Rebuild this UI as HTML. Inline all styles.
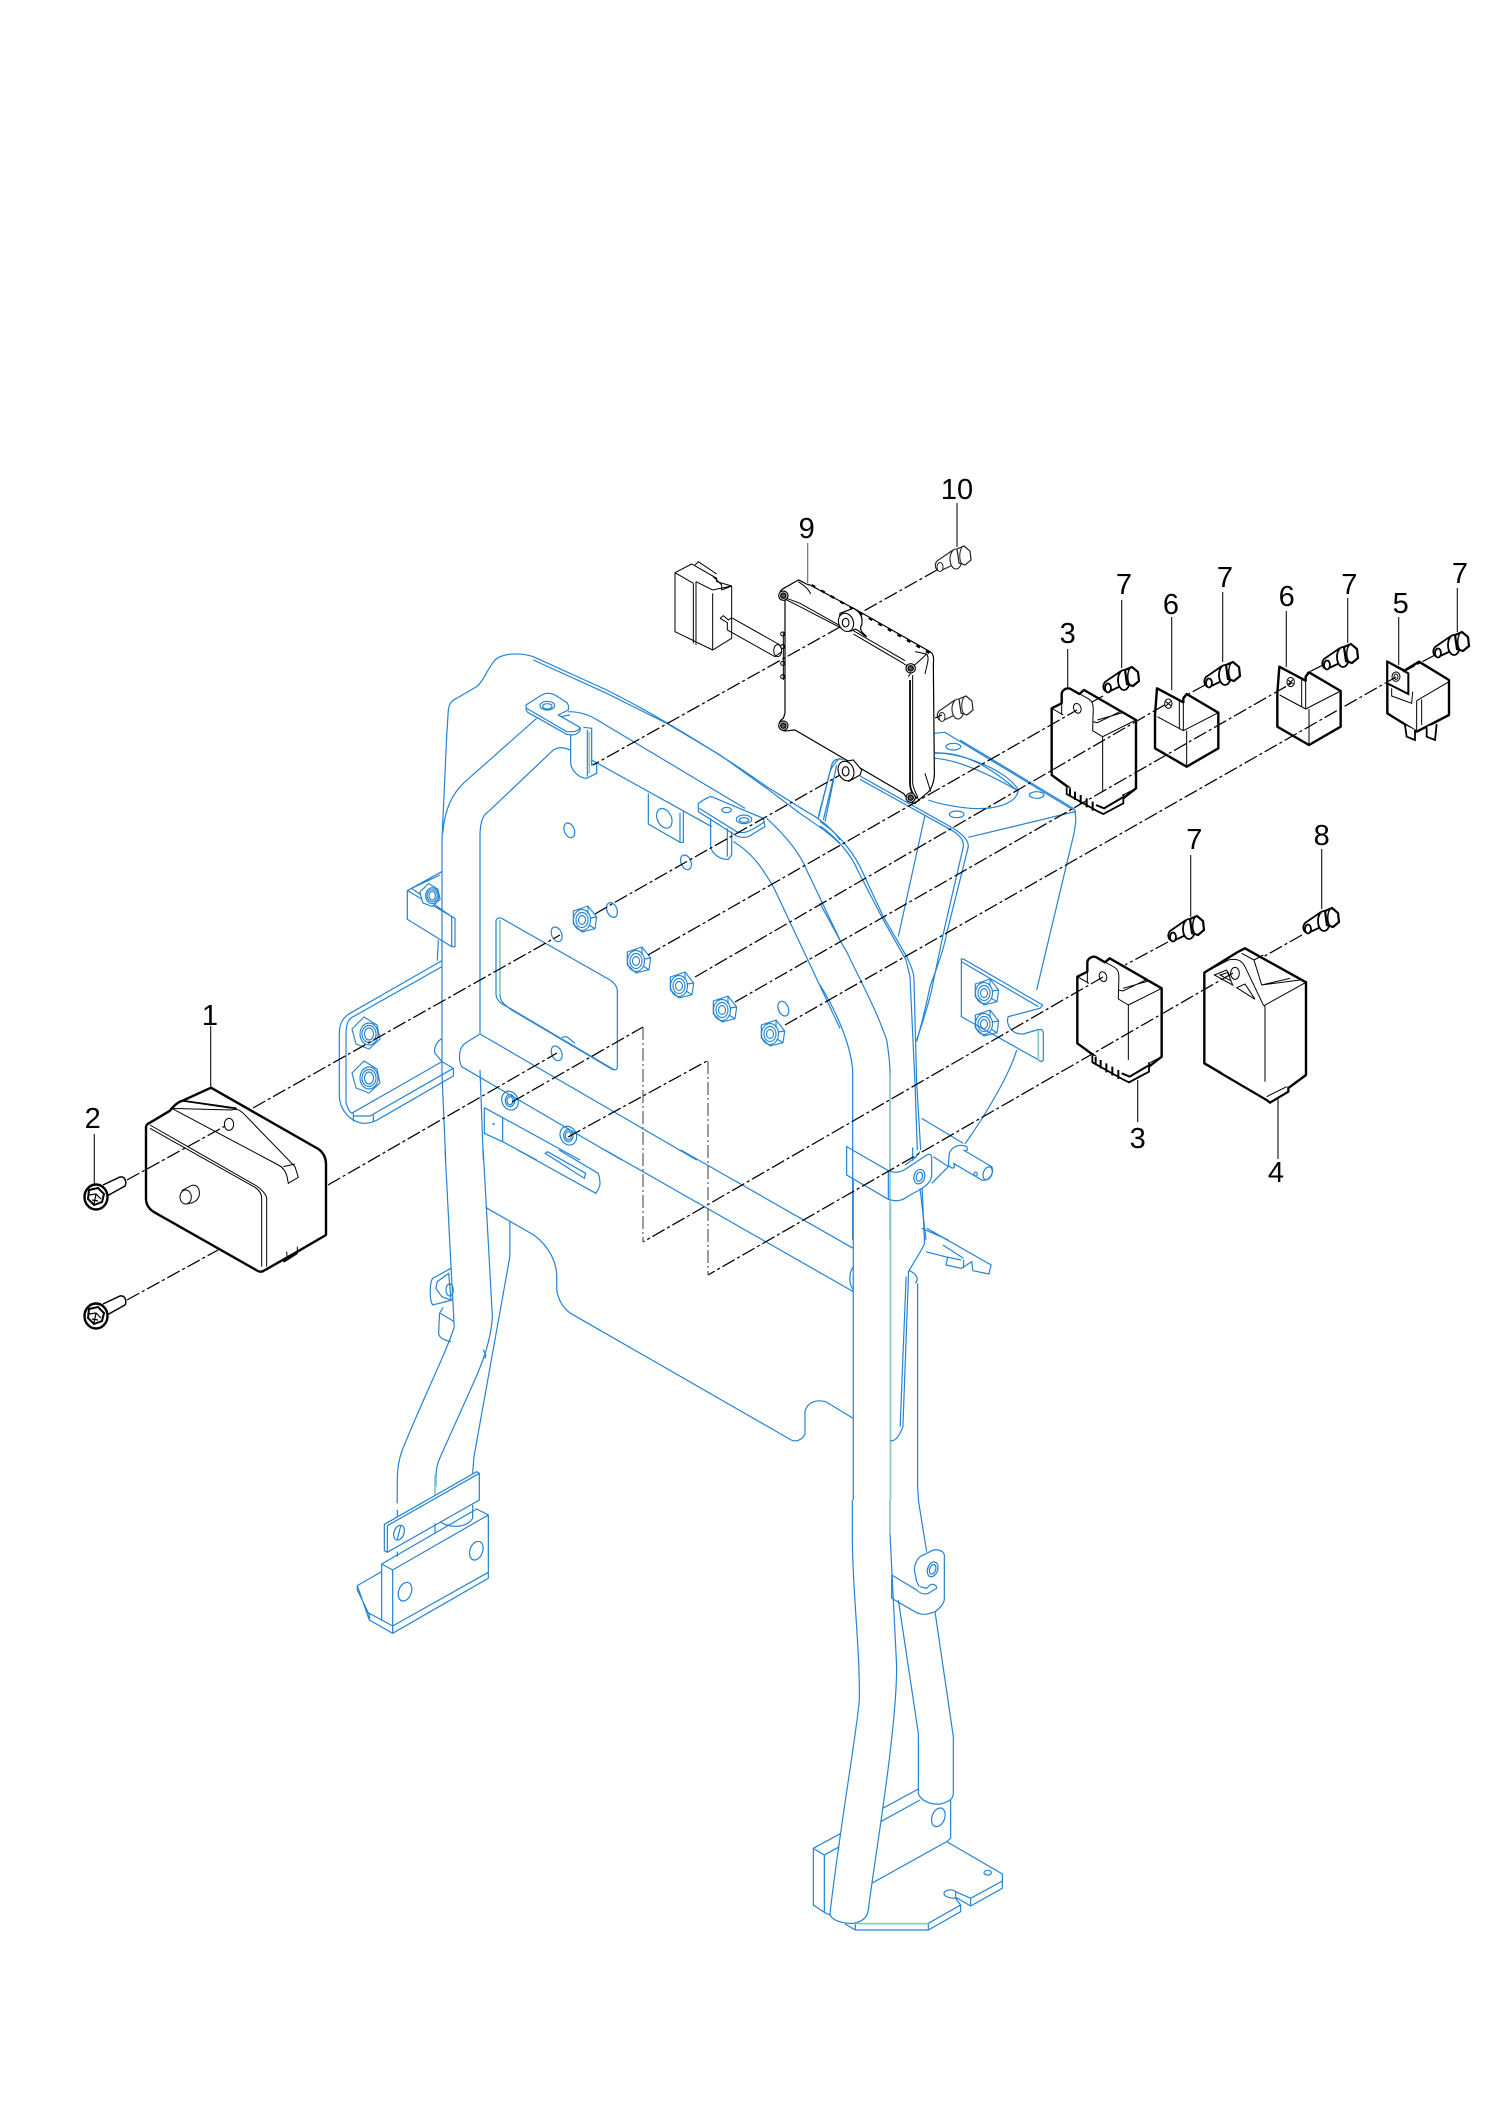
<!DOCTYPE html>
<html><head><meta charset="utf-8"><style>
html,body{margin:0;padding:0;background:#fff;width:1500px;height:2121px;overflow:hidden}
svg{display:block}
path,ellipse,polygon,line,circle{vector-effect:non-scaling-stroke}
.b path,.b ellipse,.b polygon{fill:none;stroke:#2483d4;stroke-width:1.2}
.b .t{stroke:#8ccbcd;stroke-width:1.8}
.k{fill:none;stroke:#000;stroke-width:1.1}
.K{fill:#fff;stroke:#000;stroke-width:2.4;stroke-linejoin:round}
.n{fill:none;stroke:#000;stroke-width:1}
.d{fill:none;stroke:#000;stroke-width:1.25;stroke-dasharray:14 3 3 3}
.g{fill:none;stroke:#666;stroke-width:1.3;stroke-dasharray:13 3 2 3}
.l{stroke:#111;stroke-width:1.1}
text{font-family:"Liberation Sans",sans-serif;font-size:29px;fill:#000;text-anchor:middle}
</style></head><body>
<svg width="1500" height="2121" viewBox="0 0 1500 2121" xmlns="http://www.w3.org/2000/svg">
<defs>
<g id="nut" fill="none" stroke="#2483d4" stroke-width="1.15">
<polygon points="-11.7,-8 3,-13 11.7,-2 10,9.7 -3,13 -11.7,4.7" fill="#fff"/>
<ellipse cx="-3" cy="1" rx="8.5" ry="10.5"/><ellipse cx="-3" cy="1" rx="6" ry="7.5"/><ellipse cx="-3" cy="1" rx="3.5" ry="4.5"/>
<path d="M3,-13 L3,-5 M11.7,-2 L5,-1 M10,9.7 L4,6"/>
</g>
<g id="nutR" fill="none" stroke="#2483d4" stroke-width="1.15">
<polygon points="-2,-16 11,-8 14,6 3,16 -10,11 -14,-4" fill="#fff"/>
<ellipse cx="3" cy="1" rx="9" ry="11"/><ellipse cx="3" cy="1" rx="7" ry="8.5"/><ellipse cx="3" cy="1" rx="4.5" ry="6"/>
</g>
<g id="boltA">
<path d="M7,-12 L24,-20 C29,-21 31,-15 29,-11 L11,-1" fill="#fff" stroke="#000" stroke-width="1.5"/>
<ellipse cx="0" cy="0" rx="11.5" ry="12.5" fill="#fff" stroke="#000" stroke-width="2.4"/>
<polygon points="-7,-7 2,-9 8,-3 6,5 -2,8 -8,2" fill="#fff" stroke="#000" stroke-width="2"/>
<path d="M-7,-2 L0,-3 L5,2 M0,-3 L-2,7 M-4,3 L2,4" stroke="#000" stroke-width="1.2" fill="none"/>
</g>
<g id="boltB">
<path d="M-7,-7 L-23,4 C-26,8 -25,13 -20,14 L-5,7" fill="#fff" stroke="#000" stroke-width="1.8"/>
<ellipse cx="-20" cy="10" rx="3" ry="4.5" fill="#fff" stroke="#000" stroke-width="1.8"/>
<ellipse cx="-4" cy="2" rx="6" ry="10" fill="#fff" stroke="#000" stroke-width="1.8"/>
<polygon points="-3,-8 4,-11 10,-6 11,3 5,8 -1,6" fill="#fff" stroke="#000" stroke-width="2.2"/>
<path d="M2,-10 C-1,-5 -1,3 2,7" fill="none" stroke="#000" stroke-width="1.4"/>
</g>
<g id="boltC">
<path d="M-7,-7 L-23,4 C-26,8 -25,13 -20,14 L-5,7" fill="#fff" stroke="#222" stroke-width="1.1"/>
<ellipse cx="-20" cy="10" rx="3" ry="4.5" fill="#fff" stroke="#222" stroke-width="1"/>
<ellipse cx="-4" cy="2" rx="6" ry="10" fill="#fff" stroke="#222" stroke-width="1.1"/>
<polygon points="-3,-8 4,-11 10,-6 11,3 5,8 -1,6" fill="#fff" stroke="#222" stroke-width="1.2"/>
<path d="M2,-10 C-1,-5 -1,3 2,7" fill="none" stroke="#222" stroke-width="1"/>
</g>
<g id="p3">
<path class="K" d="M95,505 L125,490 L125,460 C130,445 145,443 152,447 L178,462 L192,450 L348,540 L348,745 L252,820 L95,705 Z"/>
<path class="n" d="M95,505 L130,525 M125,490 L125,525 M152,447 L205,476 C220,485 221,497 219,530 L218,572 L248,590 L248,795 M248,590 L348,540 M218,545 L232,548 L300,515 M232,540 L308,518 M248,797 L348,745"/>
<path d="M140,742 L140,762 L235,815 L250,822 L310,790 L310,762" fill="#fff" stroke="#000" stroke-width="1.8"/>
<path d="M150,745 L150,770 M165,755 L165,780 M182,765 L182,792 M200,775 L200,802 M218,785 L218,812 M228,795 L252,805 L308,772" stroke="#000" stroke-width="2" fill="none"/>
<ellipse cx="172" cy="505" rx="11" ry="15" transform="rotate(-20 172 505)" fill="none" stroke="#000" stroke-width="1"/>
</g>
<g id="p6">
<path class="K" d="M405,525 L411,445 L490,487 L490,475 L500,462 L595,518 L595,625 L500,680 L405,625 Z"/>
<path class="n" d="M412,530 L490,572 M490,487 L490,572 M478,480 L478,566 M490,572 L595,518 M500,572 L500,680"/>
<ellipse cx="445" cy="491" rx="11" ry="14" class="n"/>
<path class="n" d="M437,485 L453,497 M452,484 L438,498"/>
</g>
</defs>

<!-- BLUE: region 5 -->
<g class="b" transform="translate(320,640) scale(.33333)">
<path d="M377,1560 L366,1300 L366,600 L380,290 L385,210 C388,190 395,182 410,175 L470,140 C490,125 500,90 525,60 C545,42 590,35 640,50 L860,150 C1000,220 1200,340 1340,440 L1460,515 C1500,535 1540,570 1560,600"/>
<path d="M640,60 L860,160 L1040,250 L1200,345 L1340,445 L1440,520 C1490,555 1530,580 1560,612"/>
<path d="M480,1180 L480,580 C482,540 490,525 505,515 L700,330 C715,320 730,322 752,330"/>
<path d="M650,235 L430,430 C400,460 375,500 368,580"/>
<path d="M745,215 C780,215 810,225 835,242 L1275,505"/>
<path d="M815,360 L1175,560"/>
<path d="M1240,605 C1300,640 1330,690 1360,740 L1560,1165"/>
<path d="M1340,535 C1400,590 1440,640 1460,690 L1560,900"/>
<path d="M1495,530 L1525,415 C1530,385 1545,365 1560,355 M1510,540 L1540,415"/>
<!-- top left bracket -->
<path d="M618,195 L665,165 C680,157 695,160 705,165 L740,187 C748,195 745,205 745,210 L715,225 L780,262 C785,268 775,285 755,285 L740,283 L625,218 C618,215 618,205 618,195 Z"/>
<path d="M620,205 L740,275 L755,275 C770,275 780,268 780,262"/>
<path d="M752,285 L752,370 C755,395 780,415 800,415 L830,400 L830,370 L815,375 L815,265 L790,262 M802,270 L802,410"/>
<path class="t" d="M808,275 L808,400"/>
<ellipse cx="682" cy="197" rx="22" ry="13"/><ellipse cx="682" cy="199" rx="14" ry="8"/>
<path d="M715,225 C725,235 735,225 750,225"/>
<!-- right bracket -->
<path d="M1135,490 C1150,480 1168,468 1175,470 L1330,535 L1335,560 L1285,590 C1270,595 1250,590 1245,585 L1135,515 Z"/>
<path d="M1138,505 L1250,575 C1270,582 1285,578 1335,545"/>
<ellipse cx="1272" cy="538" rx="23" ry="13"/><ellipse cx="1272" cy="540" rx="14" ry="7"/><ellipse cx="1220" cy="510" rx="14" ry="8"/>
<path d="M1172,535 L1172,620 C1175,640 1200,660 1225,658 L1235,645 L1235,575 M1222,565 L1222,650"/>
<path d="M985,460 L985,552 L1080,607 L1090,607 L1090,515 M1080,518 L1080,605"/>
<ellipse cx="1033" cy="535" rx="21" ry="31" transform="rotate(-25 1033 535)"/>
<!-- holes -->
<ellipse cx="748" cy="571" rx="15" ry="23" transform="rotate(-22 748 571)"/>
<ellipse cx="1098" cy="667" rx="15" ry="23" transform="rotate(-22 1098 667)"/>
<ellipse cx="876" cy="810" rx="15" ry="23" transform="rotate(-22 876 810)"/>
<ellipse cx="710" cy="883" rx="15" ry="23" transform="rotate(-22 710 883)"/>
<ellipse cx="710" cy="1240" rx="15" ry="23" transform="rotate(-22 710 1240)"/>
<ellipse cx="1390" cy="1106" rx="15" ry="23" transform="rotate(-22 1390 1106)"/>
<!-- left plate -->
<path d="M366,962 L90,1120 C65,1135 58,1155 58,1180 L58,1370 C60,1410 90,1445 130,1450 C150,1450 165,1445 180,1435 L400,1308 L400,1285 L366,1265 L95,1420"/>
<path d="M366,980 L100,1130 C85,1135 78,1155 78,1180 L78,1385 C80,1400 88,1415 95,1420 M100,1420 L100,1445 M160,1425 L160,1445 M100,1428 L150,1428 L400,1285"/>
<path d="M365,695 L262,752 L262,838 L395,920 L405,920 L405,835 L262,752 M275,745 L360,705 M275,745 L395,830 M395,830 L395,920"/>
<path d="M355,900 L352,962 M366,1195 C350,1205 340,1225 345,1240 L366,1265"/>
<!-- window -->
<path d="M528,845 C528,835 535,832 545,835 L870,1020 C885,1030 892,1040 892,1055 L892,1280 C892,1290 885,1292 875,1285 L570,1105 C540,1090 528,1080 528,1060 Z"/>
<path class="t" d="M540,840 L540,1065"/>
<path d="M540,1065 C540,1085 555,1095 575,1110 L880,1290 M725,1192 L740,1190 L765,1210"/>
<!-- crossbar -->
<path d="M480,1182 L1130,1560 M480,1182 L435,1210 C415,1225 415,1260 425,1280 L905,1560 M480,1290 L490,1560"/>
<path d="M493,1403 L493,1480 L548,1505 L548,1433 L493,1403 L780,1560 M548,1505 L650,1560"/>
<ellipse cx="570" cy="1382" rx="24" ry="29" transform="rotate(-25 570 1382)"/><ellipse cx="570" cy="1382" rx="14" ry="18"/><ellipse cx="570" cy="1382" rx="9" ry="12"/>
<ellipse cx="745" cy="1487" rx="24" ry="29" transform="rotate(-25 745 1487)"/><ellipse cx="745" cy="1487" rx="14" ry="18"/><ellipse cx="745" cy="1487" rx="9" ry="12"/>
<ellipse cx="521" cy="1452" rx="1.5" ry="1.5"/>
</g>
<use href="#nut" x="585" y="919"/><use href="#nut" x="639" y="960"/><use href="#nut" x="682" y="985"/><use href="#nut" x="725" y="1009"/><use href="#nut" x="773" y="1033"/>
<use href="#nut" x="987" y="992"/><use href="#nut" x="987" y="1023"/>
<use href="#nutR" x="366" y="1033"/><use href="#nutR" x="366" y="1077"/>
<g transform="translate(430,895) scale(.72)"><use href="#nutR"/></g>

<!-- BLUE: region 6 -->
<g class="b" transform="translate(820,740) scale(.33333)">
<path d="M0,245 C40,270 90,320 120,380 L190,530 L260,650 C275,680 282,700 282,720 L290,1030 L302,1230"/>
<path d="M0,258 C40,285 90,335 115,395 L190,540 L258,660 L270,710 L285,1030 L292,1230"/>
<path d="M0,490 L65,610 L80,635 C110,700 170,810 200,900 C208,950 210,980 210,1000 L210,1290"/>
<path class="t" d="M210,1000 L210,1500"/>
<path d="M0,735 C40,800 90,900 98,990 L98,1500"/>
<path d="M120,108 L400,265 C430,285 445,300 445,320 L380,580 C370,640 340,710 330,740 C320,790 305,850 290,905"/>
<path d="M120,118 L390,268 C420,285 432,300 430,320 L370,580 L340,725 C330,780 310,840 290,900"/>
<path d="M315,225 L235,590 M445,292 L765,215 C770,240 765,260 762,280 L650,750 M760,205 L420,0"/>
<path d="M345,38 C430,40 560,90 595,150 C590,190 530,210 450,205 C400,200 350,190 325,180 M345,55 C420,60 520,110 590,150"/>
<ellipse cx="400" cy="20" rx="22" ry="10"/><ellipse cx="650" cy="165" rx="22" ry="10"/><ellipse cx="410" cy="223" rx="22" ry="10"/>
<path d="M760,205 C765,210 768,215 765,220"/>
<!-- bracket -->
<path d="M424,657 L424,830 L665,965 L670,960 L670,880 C668,865 660,868 650,870 L610,882 C575,885 555,850 565,830 L660,805 L668,795 L430,657 Z M424,665 L655,800"/>
<path class="t" d="M655,870 L655,965"/>
<path d="M590,930 C570,1000 500,1120 435,1212 M305,1135 L430,1210"/>
<path d="M388,1240 C395,1220 420,1210 440,1220 C445,1230 440,1235 430,1230 L515,1280 C525,1300 505,1325 485,1320 L400,1270 C410,1285 395,1290 385,1275 Z"/>
<ellipse cx="503" cy="1300" rx="13" ry="20" transform="rotate(20 503 1300)"/><ellipse cx="467" cy="1302" rx="5" ry="6"/>
<path d="M80,1220 L205,1292 C225,1300 240,1298 260,1285 L320,1245 C330,1240 335,1245 335,1255 L335,1310 C330,1335 300,1350 270,1365 C245,1385 225,1385 205,1378 L80,1305 Z M205,1292 L205,1378 M278,1222 L278,1260 L300,1235 M255,1275 L290,1250"/>
<ellipse cx="298" cy="1310" rx="16" ry="22" transform="rotate(15 298 1310)"/><ellipse cx="298" cy="1310" rx="9" ry="14" transform="rotate(15 298 1310)"/>
<path d="M340,1250 L385,1280 L335,1330 M300,1345 L318,1500 M305,1465 L385,1500"/>
</g>

<!-- BLUE: region 2 -->
<g class="b" transform="translate(640,450) scale(.33333)">
<path d="M535,1105 L575,945 C580,925 600,925 610,930 M555,1115 L590,945"/>
<path d="M880,850 L915,847 L1300,1080"/>
<path d="M885,910 C950,905 1030,930 1135,1025"/>
</g>

<!-- BLUE: region 7 (non-uniform) -->
<g class="b" transform="translate(320,1150) scale(.4597,.33333)">
<path d="M272,0 L285,350 L292,530 C280,590 220,760 185,880 C172,920 168,950 168,1000 L168,1060"/>
<path d="M355,0 L375,500 C372,570 355,630 340,680 L262,920 C252,950 252,970 252,1010"/>
<path d="M413,215 L413,320 L335,920 L332,970"/>
<path d="M360,172 L465,255 C500,290 515,340 515,380 L515,420 C518,450 530,475 545,490 L1025,870 C1040,880 1055,860 1055,850 L1055,785 C1060,755 1080,748 1100,755 L1160,805"/>
<path d="M430,0 L600,130 C610,110 612,100 605,70 L520,0 M490,10 L575,85 L578,70 L495,5 Z"/>
<path d="M620,0 L1160,425 M785,0 L1160,295 M1160,350 C1150,370 1150,400 1160,420"/>
<path d="M1160,90 L1160,1050"/>
<path class="t" d="M1241,160 L1241,1050"/>
<path d="M1310,115 L1315,280 C1310,300 1290,340 1280,365 L1280,380 L1268,830 C1260,860 1250,875 1240,872"/>
<path d="M1275,380 L1262,830 M1282,362 C1295,370 1305,385 1295,400"/>
<path d="M1300,400 L1300,1010 L1302,1050"/>
<path d="M1320,235 L1460,345 L1455,372 L1420,362 L1418,335 L1395,355 L1362,345 L1365,322 L1318,305 M1355,285 L1400,325 M1360,320 L1395,330 M1400,330 L1400,355"/>
<path d="M285,355 L245,385 C238,400 238,450 245,465 L288,450 M255,395 L280,370 L285,450 L265,440 L252,415 Z M268,472 L260,490 L258,550 C260,565 270,570 285,575 M262,490 L292,515"/>
<ellipse cx="282" cy="420" rx="8" ry="18"/>
<path d="M355,600 C360,610 362,620 358,625"/>
</g>

<!-- BLUE: region 8 left foot -->
<g class="b" transform="translate(340,1460) scale(.33333)">
<path d="M133,193 L410,35 L418,40 L418,120 L142,277 L133,272 Z M142,197 L418,40 M142,197 L142,277"/>
<path class="t" d="M285,105 L285,45"/>
<ellipse cx="177" cy="218" rx="15" ry="23" transform="rotate(20 177 218)"/><path d="M172,238 L182,198"/>
<path d="M125,312 L410,147 L445,165 L445,355 L158,520 L88,480 L88,460 L158,498 L445,337 M125,312 L158,330 L445,165 M158,330 L158,520 M125,312 L125,482 M125,335 L52,377 L88,480 M52,377 L52,390 L88,465"/>
<ellipse cx="195" cy="395" rx="19" ry="29" transform="rotate(20 195 395)"/><ellipse cx="409" cy="272" rx="19" ry="29" transform="rotate(20 409 272)"/>
<path d="M300,185 C330,205 380,205 398,175 L398,135 M285,190 L285,220 M172,150 L172,170 M172,275 L172,290"/>
</g>

<!-- BLUE: region 9 right foot -->
<g class="b" transform="translate(780,1500) scale(.33333)">
<path d="M217,0 L217,130 C220,300 240,450 238,600 C230,700 180,980 150,1240 C150,1260 190,1272 220,1270 C250,1265 262,1250 265,1230 C280,1100 350,700 350,500 L330,100"/>
<path class="t" d="M330,0 L330,100"/>
<path d="M355,300 L415,700 L415,880 C420,900 450,915 480,912 C510,905 520,895 520,880 L520,710 L465,335 M415,0 L440,155"/>
<path d="M335,225 L410,270 C420,280 430,285 445,280 L470,265 C470,255 460,250 450,255 L440,265 L420,260 M335,225 L335,295 L410,338 C425,345 440,345 465,335 C480,325 493,310 493,295 L493,165 C490,150 470,148 460,150 L420,170 C405,185 403,200 403,210 L410,245 L418,260"/>
<ellipse cx="458" cy="208" rx="15" ry="23" transform="rotate(20 458 208)"/><ellipse cx="458" cy="208" rx="9" ry="15" transform="rotate(20 458 208)"/>
<path d="M415,867 L308,925 M420,900 L302,965 M512,900 L512,1015 L500,1025 L275,1150 M500,1025 L667,1122 L667,1165 L572,1218 L527,1192 L527,1175 C515,1165 495,1170 492,1180 C492,1192 515,1195 527,1195 L542,1215 L542,1235 L445,1290 L226,1290 L195,1272 M572,1195 L572,1218 M572,1195 L667,1143 M527,1175 L572,1195 M445,1270 L542,1215 M445,1270 L445,1290 M226,1270 L226,1290"/>
<path class="t" d="M226,1271 L445,1271"/>
<path d="M100,1045 L183,1000 M100,1045 L133,1065 L178,1040 M100,1045 L100,1215 L133,1237 L133,1065 M133,1237 L150,1245"/>
<ellipse cx="475" cy="952" rx="19" ry="29" transform="rotate(20 475 952)"/><ellipse cx="623" cy="1118" rx="11" ry="7"/>
</g>

<!-- BLACK: part 1 -->
<g transform="translate(50,950) scale(.33333)">
<path class="K" d="M483,413 L805,597 C820,607 828,625 828,640 L828,855 L742,905 L640,963 C630,968 622,963 615,958 L310,785 C295,775 288,762 288,745 L288,530 C288,525 295,520 300,518 L360,482 C370,468 385,455 398,452 Z"/>
<path class="n" d="M360,475 L545,480 C560,475 570,480 580,490 L735,650 L745,682 L715,700 L710,675 C705,660 695,650 685,645 L365,475 M700,650 L735,642 M300,525 L620,708 C635,718 650,735 650,745 L650,950 M300,535 L615,712 C630,722 635,735 635,745 L635,950 M395,452 L545,475 M710,905 L712,930 L742,910 L742,890"/>
<path d="M395,452 L560,475" stroke="#000" stroke-width="1.8" fill="none"/>
<ellipse cx="537" cy="523" rx="14" ry="18" class="n"/>
<path class="n" d="M395,722 L425,706 C440,702 450,715 448,735 C445,750 435,755 428,758 L410,762"/>
<ellipse cx="407" cy="741" rx="17" ry="21" class="n"/>
<path d="M700,935 L740,910" stroke="#000" stroke-width="2.2" fill="none"/>
</g>
<use href="#boltA" x="96" y="1197"/><use href="#boltA" x="96" y="1316"/>

<!-- connector + ECU -->
<g transform="translate(640,450) scale(.33333)">
<path class="n" fill="#fff" d="M105,368 L155,342 L230,385 L230,395 L275,408 L275,565 L218,600 L105,545 Z M160,400 L160,580 M168,395 L168,585 M218,430 L218,600 M160,400 L105,368 M168,395 L218,420 L275,408 M165,345 L175,335 L230,372 M215,375 L245,405 L245,420 M245,420 L275,408"/>
<path class="n" d="M240,505 L250,497 L265,510 L275,503 L420,585 M240,505 L262,518 L262,540 L405,620 L425,605"/>
<ellipse cx="413" cy="602" rx="12" ry="18" class="n"/>
<path class="n" d="M430,548 L430,690"/>
<ellipse cx="428" cy="552" rx="6" ry="6" class="n"/><ellipse cx="428" cy="590" rx="6" ry="6" class="n"/><ellipse cx="428" cy="640" rx="6" ry="6" class="n"/><ellipse cx="428" cy="680" rx="6" ry="6" class="n"/>
<path d="M420,430 C420,420 430,415 440,410 L475,390 C490,395 500,405 510,405 L650,480 L870,605 C880,610 882,625 880,640 L883,960 C885,990 875,1020 860,1030 L825,1060 C805,1060 800,1040 790,1030 L465,840 C450,840 440,845 430,842 C415,835 412,815 430,805 L435,790 L435,440 Z" fill="#fff" stroke="#000" stroke-width="1.2"/>
<path d="M515,405 L870,610" stroke="#000" stroke-width="2.4" stroke-dasharray="4 7" fill="none"/>
<path class="n" d="M430,445 L480,470 L605,535 M640,552 L790,640 C800,650 820,650 830,640 L860,612 M440,445 L480,460 L600,527 M640,542 L795,632 M475,395 C490,405 505,415 512,432 M805,680 C810,670 820,665 818,660 M810,690 L810,1000 C810,1025 825,1040 830,1045 M818,675 L818,1000 C820,1020 835,1040 835,1050 M825,605 L860,612 C870,625 860,645 855,672 M855,970 L872,1025"/>
<path d="M810,690 L810,1000 C810,1025 825,1040 830,1045" stroke="#000" stroke-width="1.8" fill="none"/>
<g fill="#fff" stroke="#000"><circle cx="430" cy="437" r="14" stroke-width="1.2"/><circle cx="430" cy="437" r="8" fill="#555" stroke-width="1.2"/><circle cx="812" cy="655" r="14" stroke-width="1.2"/><circle cx="812" cy="655" r="8" fill="#555" stroke-width="1.2"/><circle cx="430" cy="827" r="14" stroke-width="1.2"/><circle cx="430" cy="827" r="8" fill="#555" stroke-width="1.2"/><circle cx="812" cy="1043" r="14" stroke-width="1.2"/><circle cx="812" cy="1043" r="8" fill="#555" stroke-width="1.2"/></g>
<path d="M600,490 L640,475 C660,485 670,500 665,525 C655,540 670,550 680,560 C665,555 650,530 640,540 C625,550 605,535 598,515 Z" fill="#fff" stroke="#000" stroke-width="1.2"/>
<ellipse cx="618" cy="517" rx="22" ry="28" transform="rotate(-20 618 517)" fill="#fff" stroke="#000" stroke-width="1.1"/><ellipse cx="617" cy="518" rx="10" ry="13" fill="none" stroke="#000" stroke-width="1.1"/>
<path d="M610,935 L640,930 L665,960 L660,975 L625,995" fill="#fff" stroke="#000" stroke-width="1.1"/>
<ellipse cx="618" cy="963" rx="23" ry="30" transform="rotate(-20 618 963)" fill="#fff" stroke="#000" stroke-width="1.1"/><ellipse cx="617" cy="964" rx="10" ry="14" fill="none" stroke="#000" stroke-width="1.1"/>
</g>

<!-- relays upper -->
<g transform="translate(1020,540) scale(.33333)">
<use href="#p3"/>
<use href="#p6"/>
<use href="#p6" x="367" y="-65"/>
<path class="K" d="M1102,520 L1102,365 L1153,392 L1197,365 L1287,420 L1287,525 L1190,575 Z"/>
<path d="M1102,365 L1165,400 L1165,462 L1102,430 Z" fill="#fff" stroke="#000" stroke-width="2"/>
<path class="n" d="M1115,445 L1115,468 L1175,490 L1178,455 M1190,482 L1287,425 M1190,482 L1190,575 M1205,478 L1205,555"/>
<path d="M1155,555 L1160,590 L1185,600 L1185,570 M1220,560 L1220,590 L1245,600 L1250,552" fill="#fff" stroke="#000" stroke-width="1.8"/>
<ellipse cx="1128" cy="410" rx="12" ry="14" class="n"/><ellipse cx="1128" cy="410" rx="6" ry="8" class="n"/>
</g>

<!-- relays lower -->
<g transform="translate(1060,820) scale(.33333)">
<g transform="translate(-43,-35)"><use href="#p3"/></g>
<path d="M433,458 L535,395 L555,385 L738,487 L738,765 L630,845 L433,730 Z" fill="#fff" stroke="#000" stroke-width="2.4" stroke-linejoin="round"/>
<path class="n" d="M433,458 L505,420 C530,415 545,420 555,440 L610,555 L615,560 M545,400 L582,420 L605,495 L720,480 M605,495 L690,475 M612,557 L738,487 M615,560 L615,830 M582,420 L610,405"/>
<path class="n" d="M463,465 L500,450 L518,495 Z M480,465 L505,457 L512,482 Z M530,503 L555,492 L585,538 Z"/>
<ellipse cx="525" cy="460" rx="13" ry="18" class="n"/>
<path d="M475,755 L620,840 L630,848 L685,815 L685,800" fill="#fff" stroke="#000" stroke-width="2.2"/>
<path class="n" d="M620,830 L680,800"/>
</g>

<use href="#boltB" x="1128" y="678"/><use href="#boltB" x="1229" y="673"/><use href="#boltB" x="1347" y="655"/><use href="#boltB" x="1458" y="643"/><use href="#boltB" x="1193" y="927"/><use href="#boltB" x="1328" y="919"/>
<use href="#boltC" x="960" y="557"/><use href="#boltC" x="962" y="707"/>

<!-- DASH lines -->
<path class="d" d="M127,1180 L227,1125 M253,1108 L560,935 M127,1300 L218,1250 M328,1185 L557,1053"/>
<path class="d" d="M595,914 L612,904 L686,862 L840,775"/>
<path class="d" d="M937,570 L862,612 M840,627 L593,765"/>
<path class="d" d="M648,955 L1077,710 M1103,696 L1092,702"/>
<path class="d" d="M695,977 L1168,703 M1205,685 L1183,697"/>
<path class="d" d="M735,1002 L1292,683 M1323,665 L1307,673"/>
<path class="d" d="M785,1025 L1396,677 M1435,655 L1403,672"/>
<path class="d" d="M1168,942 L1125,965 M1103,977 L643,1242"/>
<path class="d" d="M1302,935 L1263,957 M1233,973 L708,1275"/>
<path class="d" d="M512,1102 L643,1027 M568,1137 L707,1061"/>
<path class="g" d="M643,1027 L643,1242 M708,1061 L708,1275"/>
<path class="n" d="M935,718 L942,715"/>

<!-- LEADERS -->
<g class="l">
<line x1="210.7" y1="1026" x2="210.7" y2="1088"/><line x1="94.3" y1="1134" x2="94.3" y2="1185"/>
<line x1="807.7" y1="543" x2="807.7" y2="583" stroke="#666"/><line x1="957" y1="503" x2="957" y2="547"/>
<line x1="1067.7" y1="649" x2="1067.7" y2="688"/><line x1="1121.7" y1="600" x2="1121.7" y2="668"/>
<line x1="1171.7" y1="617" x2="1171.7" y2="690"/><line x1="1222.7" y1="592" x2="1222.7" y2="662"/>
<line x1="1286.3" y1="611" x2="1286.3" y2="667"/><line x1="1347.7" y1="598" x2="1347.7" y2="643"/>
<line x1="1398.7" y1="617" x2="1398.7" y2="665"/><line x1="1457.3" y1="588" x2="1457.3" y2="632"/>
<line x1="1190.7" y1="855" x2="1190.7" y2="917"/><line x1="1321.7" y1="849" x2="1321.7" y2="909"/>
<line x1="1137.7" y1="1080" x2="1137.7" y2="1122"/><line x1="1278" y1="1098" x2="1278" y2="1159"/>
</g>

<!-- LABELS -->
<text x="210" y="1025">1</text><text x="92.7" y="1128">2</text>
<text x="806.7" y="538">9</text><text x="957" y="499">10</text>
<text x="1067.7" y="643">3</text><text x="1124" y="594">7</text>
<text x="1171" y="614">6</text><text x="1225" y="587">7</text>
<text x="1286.7" y="606">6</text><text x="1349.3" y="594">7</text>
<text x="1400.7" y="613">5</text><text x="1460" y="583">7</text>
<text x="1194.3" y="849">7</text><text x="1321.7" y="845">8</text>
<text x="1137.7" y="1148">3</text><text x="1276" y="1182">4</text>
</svg>
</body></html>
